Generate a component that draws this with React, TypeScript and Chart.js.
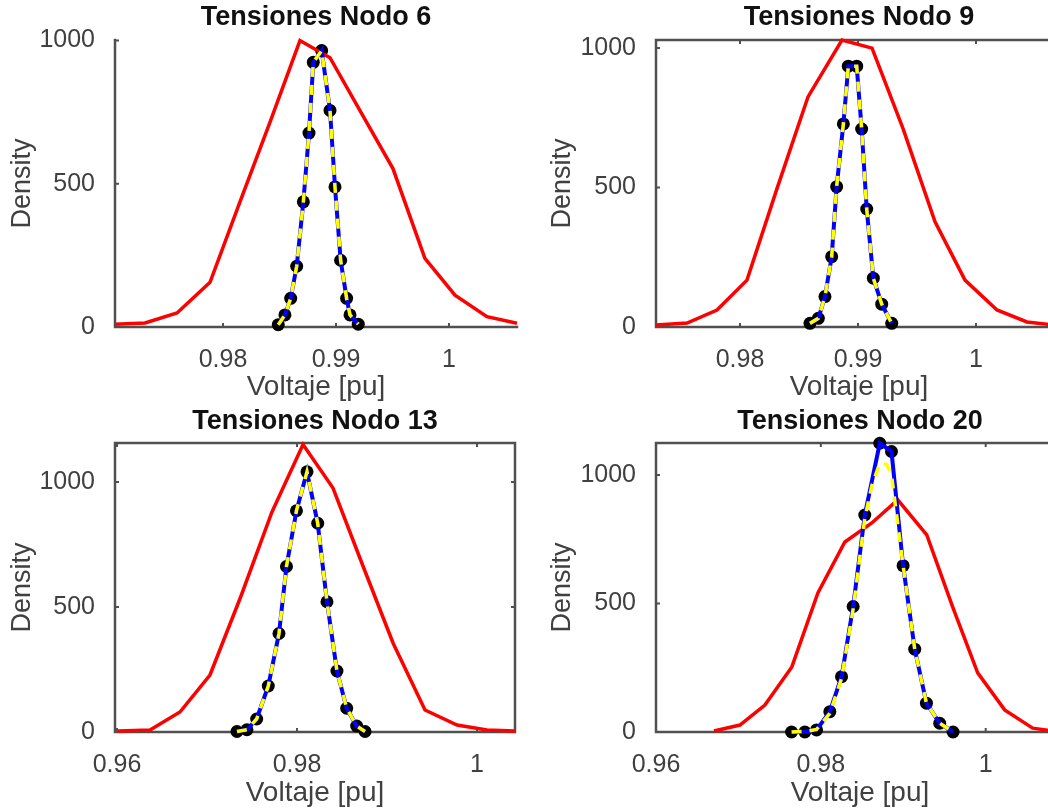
import React, { useEffect, useRef } from "react";
import { Chart, registerables } from "chart.js";

Chart.register(...registerables);

const FONT = "'Liberation Sans', Arial, Helvetica, sans-serif";
Chart.defaults.font.family = FONT;

// ---------- tick values ----------
const X_TICKS_FINE = [0.98, 0.99, 1];
const X_TICKS_WIDE = [0.96, 0.98, 1];
const Y_TICKS = [0, 500, 1000];

// ---------- Nodo 6 ----------
const N6_RED_X = [0.97044, 0.9731, 0.97593, 0.97885, 0.9815, 0.98416, 0.98681, 0.98947, 0.9923, 0.99504, 0.99787, 1.00053, 1.00336, 1.00602];
const N6_RED_Y = [10, 14, 49, 156, 437, 715, 1000, 940, 743, 553, 240, 111, 36, 13];
const N6_DOT_X = [0.98489, 0.98548, 0.98599, 0.98652, 0.98711, 0.98761, 0.98799, 0.98873, 0.98947, 0.98991, 0.99041, 0.99094, 0.99124, 0.99197];
const N6_DOT_Y = [8, 42, 100, 212, 437, 677, 924, 965, 756, 489, 233, 100, 42, 10];
const N6_FIT_X = N6_DOT_X;
const N6_FIT_Y = N6_DOT_Y;

// ---------- Nodo 9 ----------
const N9_RED_X = [0.97288, 0.97551, 0.97805, 0.98059, 0.98314, 0.98576, 0.98864, 0.99119, 0.99381, 0.99653, 0.99907, 1.00178, 1.00432, 1.00729];
const N9_RED_Y = [7, 14, 61, 168, 497, 825, 1029, 1000, 712, 377, 168, 61, 18, 4];
const N9_DOT_X = [0.98593, 0.98664, 0.9872, 0.98777, 0.98819, 0.98876, 0.98918, 0.98989, 0.99031, 0.99074, 0.9913, 0.99201, 0.99286];
const N9_DOT_Y = [13, 31, 109, 252, 503, 728, 935, 935, 710, 423, 175, 82, 13];
const N9_FIT_X = N9_DOT_X;
const N9_FIT_Y = N9_DOT_Y;

// ---------- Nodo 13 ----------
const N13_RED_X = [0.96011, 0.96367, 0.967, 0.97033, 0.97378, 0.97722, 0.98067, 0.984, 0.98733, 0.99067, 0.99422, 0.99778, 1.00111, 1.00422];
const N13_RED_Y = [4, 8, 80, 228, 544, 880, 1150, 976, 664, 356, 88, 28, 8, 4];
const N13_DOT_X = [0.97333, 0.97444, 0.97552, 0.97681, 0.978, 0.97883, 0.97994, 0.98111, 0.9823, 0.98333, 0.98444, 0.98552, 0.98663, 0.98756];
const N13_DOT_Y = [2, 9, 52, 184, 394, 662, 885, 1041, 835, 521, 244, 95, 24, 2];
const N13_FIT_X = N13_DOT_X;
const N13_FIT_Y = N13_DOT_Y;

// ---------- Nodo 20 ----------
const N20_RED_X = [0.96703, 0.97018, 0.97321, 0.97648, 0.97964, 0.98291, 0.98618, 0.98933, 0.99285, 0.996, 0.99903, 1.0023, 1.0057, 1.0086];
const N20_RED_Y = [4, 27, 105, 253, 541, 739, 813, 903, 767, 486, 230, 86, 15, 2];
const N20_DOT_X = [0.97645, 0.97806, 0.97948, 0.98109, 0.98251, 0.98392, 0.98533, 0.98715, 0.98857, 0.98998, 0.99139, 0.99281, 0.99442, 0.99604];
const N20_DOT_Y = [0, 0, 8, 79, 215, 488, 844, 1123, 1091, 647, 322, 112, 34, 0];
const N20_FIT_X = [0.97645, 0.97806, 0.97948, 0.98109, 0.98251, 0.98392, 0.98533, 0.9862, 0.98715, 0.988, 0.98857, 0.98998, 0.99139, 0.99281, 0.99442, 0.99604];
const N20_FIT_Y = [0, 2, 10, 72, 208, 478, 830, 960, 1045, 1040, 1000, 647, 322, 112, 34, 0];

const TICK_COLOR = "#404040";

const pts = (xs: number[], ys: number[]) => xs.map((x, i) => ({ x, y: ys[i] }));

type Panel = {
  title: string;
  left: number;
  top: number;
  w: number;
  h: number;
  yw: number;
  xh: number;
  padR: number;
  titlePad: { top: number; bottom: number };
  xTitlePadB: number;
  xmin: number;
  xmax: number;
  ymax: number;
  xt: number[];
  box: boolean;
  redX: number[];
  redY: number[];
  dotX: number[];
  dotY: number[];
  fitX: number[];
  fitY: number[];
};

const PANELS: Panel[] = [
  {
    title: "Tensiones Nodo 6", left: 0, top: 0, w: 540, h: 405, yw: 115, xh: 78, padR: 23,
    titlePad: { top: 1.8, bottom: 5.8 }, xTitlePadB: 1.2,
    xmin: 0.97044, xmax: 1.00602, ymax: 1002, xt: X_TICKS_FINE, box: false,
    redX: N6_RED_X, redY: N6_RED_Y, dotX: N6_DOT_X, dotY: N6_DOT_Y, fitX: N6_FIT_X, fitY: N6_FIT_Y,
  },
  {
    title: "Tensiones Nodo 9", left: 540, top: 0, w: 532, h: 405, yw: 116, xh: 78, padR: 10,
    titlePad: { top: 1.8, bottom: 5.8 }, xTitlePadB: 1.2,
    xmin: 0.97288, xmax: 1.00729, ymax: 1029, xt: X_TICKS_FINE, box: true,
    redX: N9_RED_X, redY: N9_RED_Y, dotX: N9_DOT_X, dotY: N9_DOT_Y, fitX: N9_FIT_X, fitY: N9_FIT_Y,
  },
  {
    title: "Tensiones Nodo 13", left: 0, top: 400, w: 540, h: 410, yw: 115, xh: 78, padR: 25,
    titlePad: { top: 5.8, bottom: 4.8 }, xTitlePadB: 0.2,
    xmin: 0.95978, xmax: 1.00422, ymax: 1156, xt: X_TICKS_WIDE, box: true,
    redX: N13_RED_X, redY: N13_RED_Y, dotX: N13_DOT_X, dotY: N13_DOT_Y, fitX: N13_FIT_X, fitY: N13_FIT_Y,
  },
  {
    title: "Tensiones Nodo 20", left: 540, top: 400, w: 534, h: 410, yw: 116, xh: 78, padR: 10,
    titlePad: { top: 5.8, bottom: 4.8 }, xTitlePadB: 0.2,
    xmin: 0.96, xmax: 1.0095, ymax: 1124, xt: X_TICKS_WIDE, box: true,
    redX: N20_RED_X, redY: N20_RED_Y, dotX: N20_DOT_X, dotY: N20_DOT_Y, fitX: N20_FIT_X, fitY: N20_FIT_Y,
  },
];

const axesPlugin = {
  id: "matlabAxes",
  beforeDatasetsDraw(chart: any, _args: any, opts: any) {
    const { ctx, chartArea } = chart;
    const { left, right, top, bottom } = chartArea;
    const xs = chart.scales.x;
    const ys = chart.scales.y;
    ctx.save();
    ctx.strokeStyle = "#505050";
    ctx.lineWidth = 2.5;
    ctx.lineCap = "square";
    ctx.beginPath();
    if (opts.box) {
      ctx.moveTo(right, bottom);
      ctx.lineTo(right, top);
      ctx.lineTo(left, top);
    }
    ctx.moveTo(left, top);
    ctx.lineTo(left, bottom);
    ctx.lineTo(right, bottom);
    ctx.stroke();
    ctx.lineWidth = 2;
    ctx.lineCap = "butt";
    ctx.beginPath();
    const tl = 4;
    for (const t of xs.ticks) {
      const px = xs.getPixelForValue(t.value);
      ctx.moveTo(px, bottom);
      ctx.lineTo(px, bottom - tl);
      if (opts.box) {
        ctx.moveTo(px, top);
        ctx.lineTo(px, top + tl);
      }
    }
    for (const t of ys.ticks) {
      const py = ys.getPixelForValue(t.value);
      ctx.moveTo(left, py);
      ctx.lineTo(left + tl, py);
      if (opts.box) {
        ctx.moveTo(right, py);
        ctx.lineTo(right - tl, py);
      }
    }
    ctx.stroke();
    ctx.restore();
  },
};

const fmt = (v: number) => String(Math.round(v * 1000) / 1000);

function makeConfig(p: Panel): any {
  const dots = pts(p.dotX, p.dotY);
  return {
    type: "scatter",
    data: {
      datasets: [
        {
          label: "fit",
          data: pts(p.fitX, p.fitY),
          showLine: true,
          borderColor: "#ffff00",
          borderWidth: 3.5,
          borderDash: [10, 8],
          pointRadius: 0,
          tension: 0,
          clip: false,
        },
        {
          label: "empirical",
          data: dots,
          showLine: true,
          borderColor: "#0000ff",
          borderWidth: 4,
          pointRadius: 0,
          tension: 0,
          clip: false,
        },
        {
          label: "reference",
          data: pts(p.redX, p.redY),
          showLine: true,
          borderColor: "#ff0000",
          borderWidth: 3.5,
          pointRadius: 0,
          tension: 0,
          clip: false,
        },
        {
          label: "samples",
          data: dots,
          showLine: false,
          pointRadius: 6.5,
          pointBackgroundColor: "#000000",
          pointBorderColor: "#000000",
          pointBorderWidth: 0,
          clip: false,
        },
      ],
    },
    options: {
      animation: false,
      responsive: false,
      devicePixelRatio: 1,
      events: [],
      layout: { padding: { left: 0, top: 0, right: p.padR, bottom: 0 } },
      plugins: {
        legend: { display: false },
        tooltip: { enabled: false },
        title: {
          display: true,
          text: p.title,
          color: "#111111",
          fullSize: false,
          font: { size: 27, weight: "bold", family: FONT },
          padding: p.titlePad,
        },
        matlabAxes: { box: p.box },
      },
      scales: {
        x: {
          type: "linear",
          min: p.xmin,
          max: p.xmax,
          afterBuildTicks: (s: any) => {
            s.ticks = p.xt.map((v) => ({ value: v }));
          },
          afterFit: (s: any) => {
            s.height = p.xh;
          },
          grid: { display: false },
          border: { display: false },
          ticks: {
            padding: 10,
            color: TICK_COLOR,
            font: { size: 25, family: FONT },
            maxRotation: 0,
            autoSkip: false,
            callback: (v: any) => fmt(Number(v)),
          },
          title: {
            display: true,
            text: "Voltaje [pu]",
            color: TICK_COLOR,
            font: { size: 28, family: FONT },
            padding: { top: 0, bottom: p.xTitlePadB },
          },
        },
        y: {
          type: "linear",
          min: 0,
          max: p.ymax,
          afterBuildTicks: (s: any) => {
            s.ticks = Y_TICKS.map((v) => ({ value: v }));
          },
          afterFit: (s: any) => {
            s.width = p.yw;
          },
          grid: { display: false },
          border: { display: false },
          ticks: {
            padding: 12,
            color: TICK_COLOR,
            font: { size: 25, family: FONT },
            callback: (v: any) => fmt(Number(v)),
          },
          title: {
            display: true,
            text: "Density",
            color: TICK_COLOR,
            font: { size: 27, family: FONT },
            padding: { top: 6.8, bottom: 0 },
          },
        },
      },
    },
    plugins: [axesPlugin],
  };
}

function PanelChart({ p }: { p: Panel }) {
  const ref = useRef<HTMLCanvasElement>(null);
  useEffect(() => {
    const chart = new Chart(ref.current as HTMLCanvasElement, makeConfig(p));
    return () => chart.destroy();
  }, [p]);
  return (
    <canvas
      ref={ref}
      width={p.w}
      height={p.h}
      style={{ position: "absolute", left: p.left, top: p.top, width: p.w, height: p.h, display: "block" }}
    />
  );
}

export default function App() {
  return (
    <div
      style={{
        position: "fixed",
        left: 0,
        top: 0,
        width: 1048,
        height: 810,
        overflow: "hidden",
        background: "#ffffff",
      }}
    >
      {PANELS.map((p) => (
        <PanelChart key={p.title} p={p} />
      ))}
    </div>
  );
}
